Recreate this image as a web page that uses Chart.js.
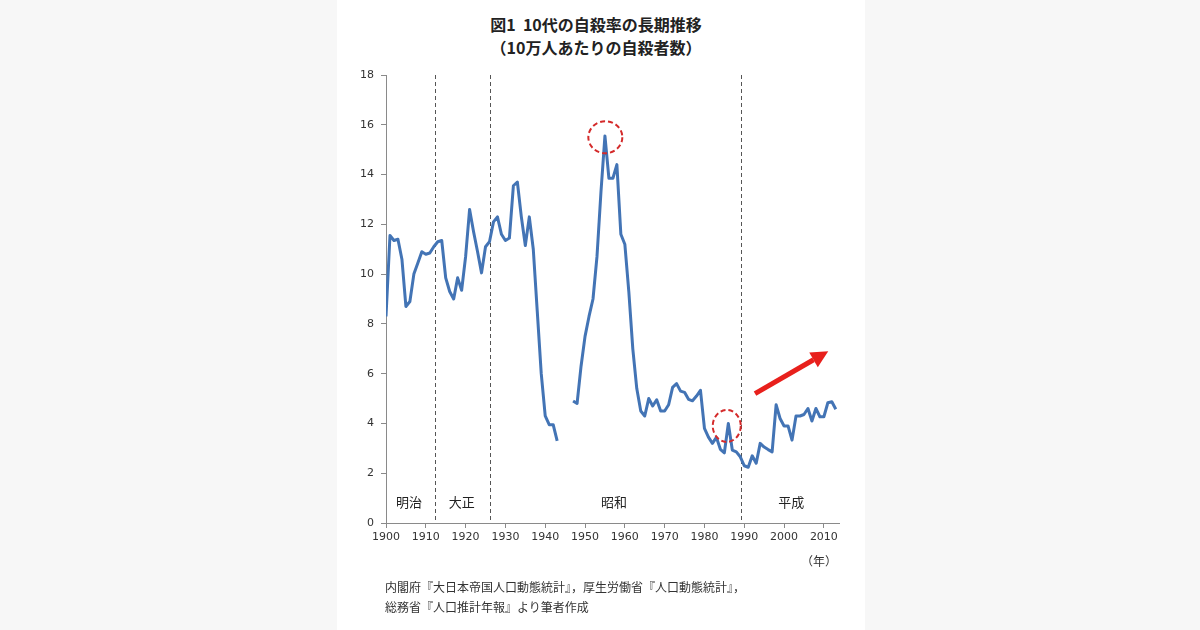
<!DOCTYPE html>
<html>
<head>
<meta charset="utf-8">
<script src="https://cdn.jsdelivr.net/npm/chart.js@4"></script>
<style>
  html, body { margin: 0; padding: 0; }
  body { width: 1200px; height: 630px; background: #f7f7f7; position: relative; overflow: hidden; }
  #panel { position: absolute; left: 337px; top: 0; width: 528px; height: 630px; background: #fff; }
  #chart { position: absolute; left: 0; top: 0; }
  .title { position: absolute; left: 0; width: 518px; text-align: center; font-family: "Noto Sans CJK JP", sans-serif; font-weight: 600; font-size: 16px; color: #222; line-height: 22px; }
  .note { position: absolute; left: 48px; font-family: "Noto Sans CJK JP", sans-serif; font-size: 12px; color: #333; line-height: 20px; }
  #unit { position: absolute; left: 464px; top: 552px; font-family: "Noto Sans CJK JP", sans-serif; font-size: 12px; color: #333; }
</style>
</head>
<body>
<div id="panel">
  <div class="title" style="top:13px">図1&nbsp;&nbsp;10代の自殺率の長期推移</div>
  <div class="title" style="top:36px">（10万人あたりの自殺者数）</div>
  <canvas id="chart" width="528" height="630"></canvas>
  <div id="unit">（年）</div>
  <div class="note" style="top:577px">内閣府『大日本帝国人口動態統計』，厚生労働省『人口動態統計』，<br>総務省『人口推計年報』より筆者作成</div>
</div>
<script>
'use strict';

// years 1900-2013
let years = [
  1900, 1901, 1902, 1903, 1904, 1905, 1906, 1907, 1908, 1909,
  1910, 1911, 1912, 1913, 1914, 1915, 1916, 1917, 1918, 1919,
  1920, 1921, 1922, 1923, 1924, 1925, 1926, 1927, 1928, 1929,
  1930, 1931, 1932, 1933, 1934, 1935, 1936, 1937, 1938, 1939,
  1940, 1941, 1942, 1943, 1944, 1945, 1946, 1947, 1948, 1949,
  1950, 1951, 1952, 1953, 1954, 1955, 1956, 1957, 1958, 1959,
  1960, 1961, 1962, 1963, 1964, 1965, 1966, 1967, 1968, 1969,
  1970, 1971, 1972, 1973, 1974, 1975, 1976, 1977, 1978, 1979,
  1980, 1981, 1982, 1983, 1984, 1985, 1986, 1987, 1988, 1989,
  1990, 1991, 1992, 1993, 1994, 1995, 1996, 1997, 1998, 1999,
  2000, 2001, 2002, 2003, 2004, 2005, 2006, 2007, 2008, 2009,
  2010, 2011, 2012, 2013
];

// suicides per 100,000 (teens), null = no data (1944-46)
let rates = [
  8.3, 11.55, 11.35, 11.4, 10.6, 8.7, 8.9, 10.0, 10.45, 10.9,
  10.8, 10.85, 11.1, 11.3, 11.35, 9.85, 9.3, 9.0, 9.85, 9.35,
  10.7, 12.6, 11.7, 10.9, 10.05, 11.1, 11.3, 12.1, 12.3, 11.6,
  11.35, 11.45, 13.55, 13.7, 12.3, 11.15, 12.3, 11.0, 8.5, 6.0,
  4.3, 3.95, 3.95, 3.3, null, null, null, 4.9, 4.8, 6.3,
  7.5, 8.3, 9.0, 10.7, 13.3, 15.55, 13.85, 13.85, 14.4, 11.6,
  11.2, 9.3, 7.0, 5.4, 4.5, 4.3, 5.0, 4.7, 4.95, 4.5,
  4.5, 4.75, 5.45, 5.6, 5.3, 5.25, 4.97, 4.91, 5.1, 5.33,
  3.8, 3.45, 3.2, 3.44, 2.96, 2.82, 4.0, 2.93, 2.86, 2.66,
  2.3, 2.24, 2.7, 2.4, 3.2, 3.05, 2.95, 2.86, 4.75, 4.2,
  3.9, 3.9, 3.33, 4.3, 4.3, 4.36, 4.6, 4.1, 4.6, 4.27,
  4.27, 4.83, 4.87, 4.57
];

let xTicks = [1900, 1910, 1920, 1930, 1940, 1950, 1960, 1970, 1980, 1990, 2000, 2010];
let yTicks = [0, 2, 4, 6, 8, 10, 12, 14, 16, 18];

// era boundaries and labels
let eraLines = [1912.3, 1926.1, 1989.2];
let eraNames = ['明治', '大正', '昭和', '平成'];
let eraLabelX = [1905.8, 1919.0, 1957.3, 2001.8];
let eraLabelY = 0.85;

// dashed circles: [year, value, rx, ry]
let circles = [[1955.1, 15.5, 17, 16], [1985.6, 3.9, 14, 16]];
// trend arrow: from [year, value] to [year, value]
let arrowFrom = [1992.7, 5.2];
let arrowTo = [2011.1, 6.9];

let points = [];
for (let i = 0; i < years.length; i++) {
  points.push({ x: years[i], y: rates[i] });
}

let tickFont = { family: '"DejaVu Sans", sans-serif', size: 11 };
let jpFont = '"Noto Sans CJK JP", sans-serif';

let extras = {
  id: 'extras',
  beforeDatasetsDraw(chart) {
    let ctx = chart.ctx;
    let x = chart.scales.x;
    let y = chart.scales.y;
    let area = chart.chartArea;
    ctx.save();
    ctx.strokeStyle = '#555';
    ctx.lineWidth = 1;
    ctx.setLineDash([4, 3]);
    eraLines.forEach(function (yr) {
      let px = Math.round(x.getPixelForValue(yr)) + 0.5;
      ctx.beginPath();
      ctx.moveTo(px, area.top);
      ctx.lineTo(px, area.bottom);
      ctx.stroke();
    });
    ctx.setLineDash([]);
    ctx.fillStyle = '#222';
    ctx.font = '13px ' + jpFont;
    ctx.textAlign = 'center';
    ctx.textBaseline = 'middle';
    for (let i = 0; i < eraNames.length; i++) {
      ctx.fillText(eraNames[i], x.getPixelForValue(eraLabelX[i]), y.getPixelForValue(eraLabelY));
    }
    ctx.restore();
  },
  afterDatasetsDraw(chart) {
    let ctx = chart.ctx;
    let x = chart.scales.x;
    let y = chart.scales.y;
    ctx.save();
    ctx.strokeStyle = '#d42a2a';
    ctx.lineWidth = 2;
    ctx.setLineDash([5, 3]);
    circles.forEach(function (c) {
      ctx.beginPath();
      ctx.ellipse(x.getPixelForValue(c[0]), y.getPixelForValue(c[1]), c[2], c[3], 0, 0, Math.PI * 2);
      ctx.stroke();
    });
    ctx.setLineDash([]);

    let x1 = x.getPixelForValue(arrowFrom[0]);
    let y1 = y.getPixelForValue(arrowFrom[1]);
    let x2 = x.getPixelForValue(arrowTo[0]);
    let y2 = y.getPixelForValue(arrowTo[1]);
    let ang = Math.atan2(y2 - y1, x2 - x1);
    let headLen = 17;
    let headW = 8.5;
    let bx = x2 - headLen * Math.cos(ang);
    let by = y2 - headLen * Math.sin(ang);
    ctx.strokeStyle = '#e8201c';
    ctx.fillStyle = '#e8201c';
    ctx.lineWidth = 5;
    ctx.beginPath();
    ctx.moveTo(x1, y1);
    ctx.lineTo(bx, by);
    ctx.stroke();
    ctx.beginPath();
    ctx.moveTo(x2, y2);
    ctx.lineTo(bx + headW * Math.sin(ang), by - headW * Math.cos(ang));
    ctx.lineTo(bx - headW * Math.sin(ang), by + headW * Math.cos(ang));
    ctx.closePath();
    ctx.fill();
    ctx.restore();
  }
};

let ctx = document.getElementById('chart').getContext('2d');
let chart = new Chart(ctx, {
  type: 'line',
  data: {
    datasets: [{
      label: '10代の自殺率',
      data: points,
      borderColor: '#4374b5',
      borderWidth: 3,
      pointRadius: 0,
      tension: 0,
      spanGaps: false,
      borderJoinStyle: 'round'
    }]
  },
  options: {
    responsive: false,
    animation: false,
    layout: { padding: { left: 9, right: 26, top: 75, bottom: 73 } },
    plugins: {
      legend: { display: false },
      tooltip: { enabled: false }
    },
    scales: {
      x: {
        type: 'linear',
        min: 1900,
        max: 2013.8,
        afterBuildTicks: function (s) { s.ticks = xTicks.map(function (v) { return { value: v }; }); },
        afterFit: function (s) { s.height = 34; },
        grid: { drawOnChartArea: false, drawTicks: true, tickLength: 5, color: '#8a8a8a' },
        border: { color: '#8a8a8a', width: 1 },
        ticks: {
          font: tickFont, color: '#333', padding: 3, maxRotation: 0, autoSkip: false,
          callback: function (v) { return String(v); }
        }
      },
      y: {
        min: 0,
        max: 18,
        afterBuildTicks: function (s) { s.ticks = yTicks.map(function (v) { return { value: v }; }); },
        afterFit: function (s) { s.width = 40; },
        grid: { drawOnChartArea: false, drawTicks: true, tickLength: 5, color: '#8a8a8a' },
        border: { color: '#8a8a8a', width: 1 },
        ticks: { font: tickFont, color: '#333', padding: 7 }
      }
    }
  },
  plugins: [extras]
});
</script>
</body>
</html>
